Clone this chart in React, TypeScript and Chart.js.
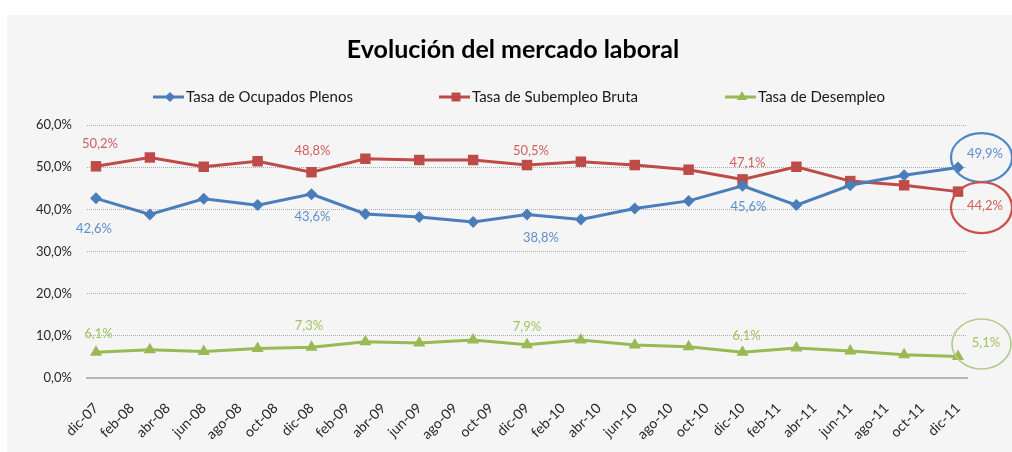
import React, { useEffect, useRef } from 'react';
import { Chart, registerables } from 'chart.js';

Chart.register(...registerables);

// ---------- data ----------
const TITLE = 'Evolución del mercado laboral';

const tickLabels = [
  'dic-07', 'feb-08', 'abr-08', 'jun-08', 'ago-08', 'oct-08', 'dic-08',
  'feb-09', 'abr-09', 'jun-09', 'ago-09', 'oct-09', 'dic-09',
  'feb-10', 'abr-10', 'jun-10', 'ago-10', 'oct-10', 'dic-10',
  'feb-11', 'abr-11', 'jun-11', 'ago-11', 'oct-11', 'dic-11',
];

const periods = [
  'dic-07', 'mar-08', 'jun-08', 'sep-08', 'dic-08', 'mar-09', 'jun-09', 'sep-09',
  'dic-09', 'mar-10', 'jun-10', 'sep-10', 'dic-10', 'mar-11', 'jun-11', 'sep-11', 'dic-11',
];

const ocupadosPlenos = [42.6, 38.8, 42.5, 41.0, 43.6, 38.9, 38.2, 37.0, 38.8, 37.6, 40.2, 42.0, 45.6, 41.0, 45.7, 48.1, 49.9];
const subempleoBruta = [50.2, 52.3, 50.1, 51.4, 48.8, 52.0, 51.7, 51.7, 50.5, 51.3, 50.5, 49.4, 47.1, 50.1, 46.7, 45.7, 44.2];
const desempleo = [6.1, 6.7, 6.3, 7.0, 7.3, 8.6, 8.3, 9.0, 7.9, 9.0, 7.8, 7.4, 6.1, 7.1, 6.4, 5.5, 5.1];

const seriesNames = ['Tasa de Ocupados Plenos', 'Tasa de Subempleo Bruta', 'Tasa de Desempleo'];

// periods that carry a value label
const labelledPeriods = ['dic-07', 'dic-08', 'dic-09', 'dic-10', 'dic-11'];

// ---------- styles ----------
const FONT = 'Lato, "Open Sans", sans-serif';
const lineColors = ['#4a7ebb', '#be4b48', '#98b954'];
const labelColors = ['#5d8fcf', '#d15f5b', '#a3c264'];
const ellipseColors = ['#4f86c6', '#c9504c', '#b2cd86'];
const pointStyles = ['rectRot', 'rect', 'triangle'];
const pointRadii = [6, 7.4, 7];

// label offsets (px) relative to each labelled point, per series
const labelOffsets = [
  [[-2, 30], [1, 23], [14, 23], [6, 21], [27, -14]],
  [[4, -23], [1, -21], [4, -14], [5, -17], [27, 14.5]],
  [[2.5, -18], [-2.5, -21], [0, -18], [4, -16], [28, -13.5]],
];
// ellipse around last label: [dx, dy, rx, ry]
const ellipseGeom = [
  [23.5, -10, 30.5, 24.5],
  [23.5, 16, 30.5, 25.5],
  [23.5, -12.5, 29.5, 25],
];

const MONTHS: Record<string, number> = {
  ene: 1, feb: 2, mar: 3, abr: 4, may: 5, jun: 6, jul: 7, ago: 8, sep: 9, oct: 10, nov: 11, dic: 12,
};
const rawMonth = (label: string) => {
  const [m, y] = label.split('-');
  return parseInt(y, 10) * 12 + MONTHS[m];
};
const BASE = rawMonth(tickLabels[0]);
const monthIndex = (label: string) => rawMonth(label) - BASE;
const tickByMonth: Record<number, string> = {};
tickLabels.forEach((l) => { tickByMonth[monthIndex(l)] = l; });

const fmt = (v: number) => v.toFixed(1).replace('.', ',') + '%';

const allSeries = [ocupadosPlenos, subempleoBruta, desempleo];

const decorPlugin = {
  id: 'decor',
  beforeDraw(chart: any) {
    const { ctx, width, height } = chart;
    ctx.save();
    ctx.fillStyle = '#ffffff';
    ctx.fillRect(0, 0, width, height);
    ctx.fillStyle = '#f5f5f5';
    ctx.fillRect(7, 15, width - 7, height - 15);
    ctx.restore();
  },
  afterDatasetsDraw(chart: any) {
    const { ctx } = chart;
    ctx.save();
    // value labels
    ctx.font = `13px ${FONT}`;
    ctx.textAlign = 'center';
    ctx.textBaseline = 'middle';
    allSeries.forEach((_, si) => {
      const meta = chart.getDatasetMeta(si);
      labelledPeriods.forEach((p, li) => {
        const idx = periods.indexOf(p);
        const el = meta.data[idx];
        if (!el) return;
        const [dx, dy] = labelOffsets[si][li];
        ctx.fillStyle = labelColors[si];
        ctx.fillText(fmt(allSeries[si][idx]), el.x + dx, el.y + dy);
      });
      // ellipse around last
      const last = meta.data[meta.data.length - 1];
      const [ex, ey, rx, ry] = ellipseGeom[si];
      ctx.beginPath();
      ctx.ellipse(last.x + ex, last.y + ey, rx, ry, 0, 0, Math.PI * 2);
      ctx.strokeStyle = ellipseColors[si];
      ctx.lineWidth = si === 2 ? 1.6 : 2.2;
      ctx.stroke();
    });
    ctx.restore();
  },
  afterDraw(chart: any) {
    const { ctx } = chart;
    ctx.save();
    // title
    ctx.fillStyle = '#000000';
    ctx.font = `bold 25px ${FONT}`;
    ctx.textAlign = 'center';
    ctx.textBaseline = 'middle';
    ctx.fillText(TITLE, 513, 50);
    // legend
    ctx.font = `15px ${FONT}`;
    ctx.textAlign = 'left';
    seriesNames.forEach((name, i) => {
      const x0 = 153 + i * 286;
      const y = 97;
      ctx.strokeStyle = lineColors[i];
      ctx.lineWidth = 3;
      ctx.beginPath();
      ctx.moveTo(x0, y);
      ctx.lineTo(x0 + 31, y);
      ctx.stroke();
      ctx.fillStyle = lineColors[i];
      const r = pointRadii[i] * 0.85;
      ctx.beginPath();
      const cx = x0 + 17;
      if (i === 0) {
        ctx.moveTo(cx, y - r); ctx.lineTo(cx + r, y); ctx.lineTo(cx, y + r); ctx.lineTo(cx - r, y);
      } else if (i === 1) {
        const s = r * Math.SQRT1_2;
        ctx.rect(cx - s, y - s, 2 * s, 2 * s);
      } else {
        ctx.moveTo(cx, y - r); ctx.lineTo(cx + r * 0.866, y + r / 2); ctx.lineTo(cx - r * 0.866, y + r / 2);
      }
      ctx.closePath();
      ctx.fill();
      ctx.fillStyle = '#1a1a1a';
      ctx.fillText(name, x0 + 33, y);
    });
    ctx.restore();
  },
};

export default function App() {
  const ref = useRef<HTMLCanvasElement | null>(null);
  useEffect(() => {
    if (!ref.current) return;
    const mk = (si: number) => ({
      label: seriesNames[si],
      data: periods.map((p, i) => ({ x: monthIndex(p), y: allSeries[si][i] })),
      borderColor: lineColors[si],
      backgroundColor: lineColors[si],
      borderWidth: 3,
      pointStyle: pointStyles[si] as any,
      pointRadius: pointRadii[si],
      pointBorderWidth: 0,
      pointBackgroundColor: lineColors[si],
      tension: 0,
      fill: false,
    });
    const chart = new Chart(ref.current, {
      type: 'line',
      data: { datasets: [mk(0), mk(1), mk(2)] },
      plugins: [decorPlugin],
      options: {
        animation: false,
        responsive: false,
        devicePixelRatio: 1,
        layout: { padding: { top: 125, right: 45, left: 0, bottom: 0 } },
        plugins: { legend: { display: false }, title: { display: false }, tooltip: { enabled: false } },
        scales: {
          x: {
            type: 'linear',
            min: -0.5,
            max: 48.5,
            afterBuildTicks: (s: any) => {
              s.ticks = tickLabels.map((l) => ({ value: monthIndex(l) }));
            },
            afterFit: (s: any) => { s.height = 74; },
            ticks: {
              autoSkip: false,
              minRotation: 45,
              maxRotation: 45,
              padding: 22,
              color: '#262626',
              font: { family: FONT, size: 14 },
              callback: (v: any) => tickByMonth[Math.round(Number(v))] ?? '',
            },
            grid: { display: false, drawTicks: false },
            border: { display: true, color: '#b5b5b5', width: 2 },
          },
          y: {
            min: 0,
            max: 60,
            afterFit: (s: any) => { s.width = 87; },
            ticks: {
              stepSize: 10,
              padding: 15,
              color: '#262626',
              font: { family: FONT, size: 13 },
              callback: (v: any) => fmt(Number(v)),
            },
            grid: { color: '#ababab', lineWidth: 1, drawTicks: false },
            border: { display: false, dash: [1, 1] },
          },
        },
      },
    });
    return () => chart.destroy();
  }, []);
  return (
    <div style={{ position: 'absolute', left: 0, top: 0, width: 1012, height: 452 }}>
      <canvas ref={ref} width={1012} height={452} style={{ display: 'block', width: 1012, height: 452 }} />
    </div>
  );
}
